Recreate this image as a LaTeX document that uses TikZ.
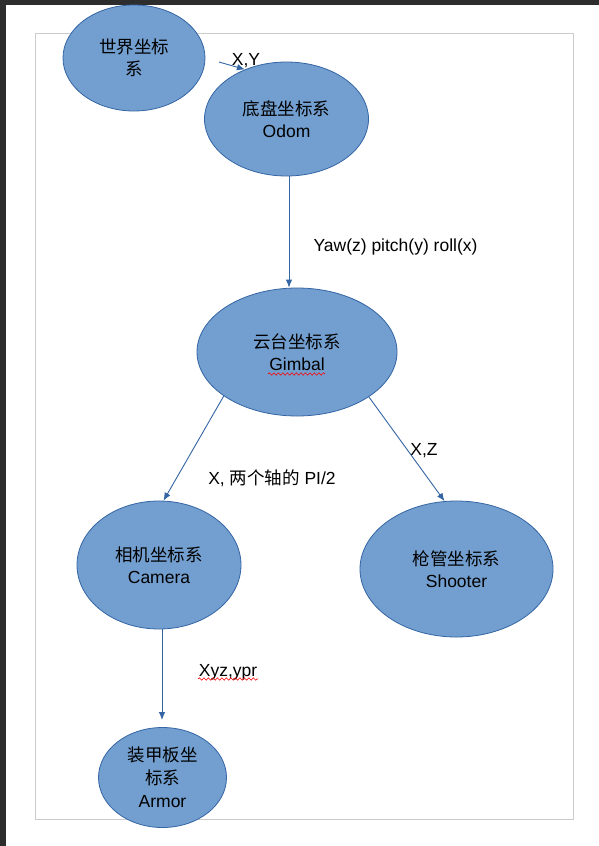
\documentclass[tikz,border=0pt]{standalone}
\usepackage{fontspec}
\setmainfont{Liberation Sans}
\newfontfamily\cjk{Noto Sans CJK SC}
\usetikzlibrary{arrows.meta,decorations.pathmorphing,shapes.geometric}
\definecolor{fillblue}{HTML}{729FCF}
\definecolor{edgeblue}{HTML}{3465A4}
\definecolor{band}{HTML}{2D2D2D}
\definecolor{framegray}{HTML}{CCCCCC}
\tikzset{
  ell/.style={ellipse, fill=fillblue, draw=edgeblue, line width=0.8pt, inner sep=0pt,
    align=center, font=\fontsize{17.5}{22.5}\selectfont, text=black},
  conn/.style={draw=edgeblue, line width=0.9pt, -{Latex[length=8pt,width=6.5pt]}},
  lab/.style={font=\fontsize{17.5}{21}\selectfont, inner sep=0pt, text=black},
  squig/.style={draw=red, line width=0.6pt, decorate, decoration={snake, amplitude=1.2pt, segment length=4.5pt}}
}
\begin{document}
\begin{tikzpicture}[x=1pt,y=-1pt]
\useasboundingbox (0,0) rectangle (599,846);
\fill[white] (0,0) rectangle (599,846);
\fill[band] (0,0) rectangle (599,5);
\fill[band] (0,0) rectangle (6,846);
\draw[framegray, line width=1pt] (35,33) rectangle (573,819);

\node[ell, minimum width=142pt, minimum height=106pt] (world) at (134,58) {{\cjk 世界坐标}\\{\cjk 系}};
\node[ell, minimum width=164pt, minimum height=114pt] (odom) at (286.5,119) {{\cjk 底盘坐标系}\\Odom};
\node[ell, minimum width=200pt, minimum height=128pt] (gimbal) at (297,352) {{\cjk 云台坐标系}\\Gimbal};
\node[ell, minimum width=164pt, minimum height=128pt] (camera) at (159,565) {{\cjk 相机坐标系}\\Camera};
\node[ell, minimum width=193pt, minimum height=136pt] (shooter) at (456.5,569) {{\cjk 枪管坐标系}\\Shooter};
\node[ell, minimum width=128pt, minimum height=100pt, font=\fontsize{17.5}{23}\selectfont] (armor) at (162.5,777.5) {{\cjk 装甲板坐}\\{\cjk 标系}\\Armor};

\coordinate (xystart) at (219,62);
\coordinate (ogx) at (289,0);
\coordinate (armtip) at (162,720);

\draw[conn] (xystart) -- (odom.130.6);
\draw[conn] (odom.south -| ogx) -- (gimbal.north -| ogx);
\draw[conn] (gimbal.211.6) -- (camera.86.5);
\draw[conn] (gimbal.328.4) -- (shooter.100);
\draw[conn] (camera.south -| armtip) -- (armtip);

\node[lab] (lxy) at (246,61) {X,Y};
\node[lab] (lypr) at (395.5,247) {Yaw(z) pitch(y) roll(x)};
\node[lab] (lcam) at (272,478) {X, {\cjk 两个轴的} PI/2};
\node[lab] (lxz) at (424,451) {X,Z};
\node[lab] (lxyz) at (228,672) {Xyz,ypr};

\draw[squig] (268,374) -- (325,374);
\draw[squig] (198,679) -- (258,679);
\end{tikzpicture}
\end{document}
